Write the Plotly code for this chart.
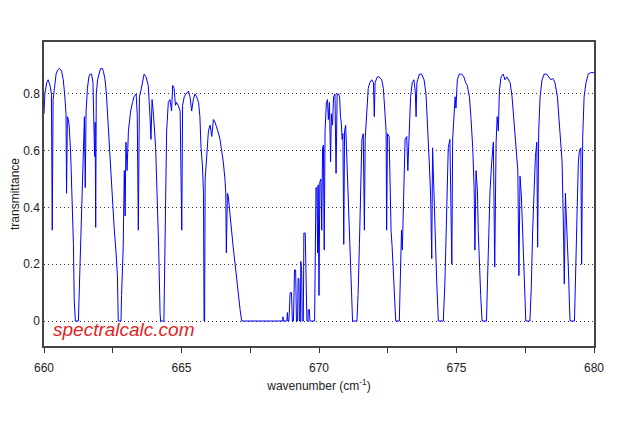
import plotly.graph_objects as go

# Wavenumber (cm^-1) and transmittance
wavenumber = [
    660.00, 660.03, 660.10, 660.15, 660.22, 660.27, 660.30, 660.33, 660.38, 660.44,
    660.50, 660.56, 660.64, 660.70, 660.75, 660.80, 660.82, 660.85, 660.89, 660.92,
    660.97, 661.01, 661.07, 661.10, 661.14, 661.25, 661.28, 661.33, 661.38, 661.43,
    661.47, 661.50, 661.53, 661.58, 661.63, 661.68, 661.73, 661.78, 661.82, 661.84,
    661.86, 661.88, 661.90, 661.95, 662.00, 662.06, 662.12, 662.16, 662.22, 662.27,
    662.34, 662.40, 662.46, 662.50, 662.55, 662.62, 662.67, 662.70, 662.80,
    662.82, 662.88, 662.92, 662.95, 662.98, 663.02, 663.07, 663.15, 663.22, 663.27,
    663.35, 663.39, 663.43, 663.47, 663.52, 663.59, 663.64, 663.71, 663.79, 663.85,
    663.89, 663.93, 663.98, 664.06, 664.12, 664.17, 664.22, 664.24, 664.36,
    664.39, 664.42, 664.46, 664.52, 664.58, 664.64, 664.68, 664.73, 664.78, 664.82,
    664.88, 664.95, 665.01, 665.04, 665.10, 665.16, 665.25, 665.31, 665.37, 665.43,
    665.49, 665.55, 665.62, 665.67, 665.71, 665.76, 665.80, 665.82, 665.84, 665.86,
    665.92, 665.98, 666.04, 666.10, 666.16, 666.22, 666.32, 666.40, 666.46, 666.52,
    666.58, 666.61, 666.63, 666.67, 666.70, 666.76, 666.83, 666.88, 666.95, 667.01,
    667.07, 667.13, 667.19, 668.68,
    668.69, 668.71, 668.83, 668.85, 668.87, 668.90, 668.92, 668.95, 669.00, 669.03,
    669.07, 669.09, 669.11, 669.15, 669.18, 669.22, 669.24, 669.27, 669.29, 669.32,
    669.34, 669.37, 669.39, 669.43, 669.45, 669.50, 669.53, 669.56, 669.60, 669.61,
    669.65, 669.67, 669.84,
    669.87, 669.89, 669.92, 669.95, 669.97, 670.00, 670.03, 670.07, 670.10, 670.13,
    670.16, 670.19, 670.22, 670.27, 670.31, 670.34, 670.38, 670.42, 670.45, 670.49,
    670.53, 670.58, 670.62, 670.66, 670.71, 670.75, 670.78, 670.81, 670.84, 670.87,
    670.90, 670.93, 670.97, 671.00, 671.05, 671.09, 671.13, 671.17, 671.20, 671.22,
    671.38,
    671.42, 671.47, 671.52, 671.56, 671.61, 671.65, 671.68, 671.73, 671.79, 671.85,
    671.92, 671.98, 672.01, 672.04, 672.12, 672.19, 672.28, 672.34, 672.40, 672.44,
    672.46, 672.49, 672.55, 672.58, 672.62, 672.66, 672.73, 672.79, 672.92,
    672.96, 673.00, 673.03, 673.08, 673.13, 673.19, 673.23, 673.26, 673.30, 673.33,
    673.39, 673.45, 673.50, 673.53, 673.56, 673.65, 673.73, 673.82, 673.89, 673.95,
    674.01, 674.06, 674.10, 674.13, 674.18, 674.22, 674.28, 674.34, 674.52,
    674.58, 674.62, 674.64, 674.70, 674.76, 674.83, 674.86, 674.91, 674.95, 674.98,
    675.03, 675.10, 675.19, 675.27, 675.33, 675.39, 675.47, 675.53, 675.59, 675.64,
    675.67, 675.71, 675.76, 675.79, 675.83, 675.88, 675.93, 676.09,
    676.13, 676.17, 676.22, 676.28, 676.34, 676.39, 676.44, 676.48, 676.52, 676.56,
    676.62, 676.70, 676.76, 676.83, 676.88, 676.95, 677.02, 677.09, 677.16, 677.23,
    677.27, 677.31, 677.36, 677.41, 677.45, 677.49, 677.52, 677.67,
    677.72, 677.77, 677.82, 677.87, 677.92, 677.95, 677.99, 678.04, 678.11, 678.19,
    678.28, 678.35, 678.43, 678.50, 678.58, 678.67, 678.74, 678.79, 678.84, 678.89,
    678.92, 678.96, 679.01, 679.07, 679.11, 679.13, 679.29,
    679.32, 679.37, 679.43, 679.47, 679.52, 679.55, 679.59, 679.64, 679.71, 679.79,
    679.88, 680.00,
]

transmittance = [
    0.73, 0.80, 0.84, 0.85, 0.83, 0.80, 0.32, 0.78, 0.82, 0.87,
    0.885, 0.89, 0.88, 0.85, 0.80, 0.73, 0.45, 0.72, 0.71, 0.68,
    0.59, 0.47, 0.27, 0.07, 0.0, 0.0, 0.10, 0.26, 0.45, 0.65,
    0.72, 0.47, 0.74, 0.82, 0.86, 0.87, 0.87, 0.84, 0.72, 0.58,
    0.70, 0.33, 0.80, 0.85, 0.87, 0.89, 0.89, 0.88, 0.85, 0.80,
    0.68, 0.58, 0.45, 0.38, 0.33, 0.24, 0.16, 0.0, 0.0,
    0.09, 0.26, 0.53, 0.37, 0.63, 0.53, 0.67, 0.74, 0.77, 0.79,
    0.80, 0.73, 0.32, 0.79, 0.81, 0.85, 0.87, 0.86, 0.83, 0.73,
    0.64, 0.78, 0.73, 0.61, 0.44, 0.26, 0.03, 0.0, 0.0,
    0.20, 0.44, 0.67, 0.77, 0.78, 0.74, 0.83, 0.82, 0.76, 0.77,
    0.76, 0.74, 0.32, 0.76, 0.79, 0.80, 0.81, 0.79, 0.74, 0.78,
    0.80, 0.79, 0.77, 0.72, 0.61, 0.55, 0.45, 0.0, 0.0, 0.50,
    0.59, 0.67, 0.69, 0.65, 0.71, 0.70, 0.67, 0.64, 0.60, 0.56,
    0.50, 0.45, 0.24, 0.45, 0.44, 0.37, 0.32, 0.26, 0.20, 0.14,
    0.08, 0.04, 0.0, 0.0,
    0.015, 0.0, 0.0, 0.03, 0.0, 0.0, 0.03, 0.10, 0.10, 0.0,
    0.0, 0.07, 0.18, 0.18, 0.0, 0.0, 0.15, 0.15, 0.0, 0.0,
    0.21, 0.18, 0.0, 0.0, 0.31, 0.31, 0.20, 0.0, 0.0, 0.04,
    0.04, 0.0, 0.0,
    0.19, 0.47, 0.47, 0.24, 0.48, 0.09, 0.49, 0.50, 0.32, 0.61,
    0.62, 0.25, 0.67, 0.77, 0.78, 0.71, 0.77, 0.56, 0.73, 0.69,
    0.79, 0.80, 0.52, 0.80, 0.80, 0.79, 0.72, 0.70, 0.64, 0.66,
    0.27, 0.67, 0.69, 0.61, 0.50, 0.38, 0.30, 0.19, 0.06, 0.0,
    0.0,
    0.09, 0.27, 0.44, 0.64, 0.66, 0.32, 0.64, 0.73, 0.82, 0.84,
    0.85, 0.84, 0.72, 0.84, 0.86, 0.86, 0.85, 0.82, 0.73, 0.67,
    0.32, 0.66, 0.65, 0.44, 0.32, 0.26, 0.14, 0.0, 0.0,
    0.14, 0.32, 0.25, 0.50, 0.64, 0.65, 0.53, 0.61, 0.69, 0.79,
    0.84, 0.85, 0.81, 0.72, 0.84, 0.87, 0.87, 0.85, 0.80, 0.69,
    0.56, 0.44, 0.22, 0.61, 0.44, 0.32, 0.14, 0.0, 0.0,
    0.14, 0.30, 0.46, 0.61, 0.64, 0.20, 0.64, 0.73, 0.79, 0.75,
    0.85, 0.87, 0.87, 0.86, 0.84, 0.83, 0.79, 0.71, 0.61, 0.47,
    0.25, 0.53, 0.46, 0.32, 0.20, 0.09, 0.0, 0.0,
    0.15, 0.32, 0.46, 0.56, 0.63, 0.19, 0.63, 0.72, 0.67, 0.81,
    0.86, 0.87, 0.85, 0.86, 0.85, 0.84, 0.79, 0.70, 0.60, 0.53,
    0.16, 0.51, 0.44, 0.30, 0.18, 0.06, 0.0, 0.0,
    0.12, 0.32, 0.46, 0.58, 0.63, 0.26, 0.67, 0.79, 0.85, 0.87,
    0.87, 0.86, 0.85, 0.855, 0.84, 0.79, 0.70, 0.65, 0.56, 0.32,
    0.13, 0.45, 0.34, 0.18, 0.05, 0.0, 0.0,
    0.11, 0.34, 0.56, 0.60, 0.61, 0.20, 0.65, 0.79, 0.84, 0.87,
    0.875, 0.875,
]

x_major_step = 5
x_minor_step = 2.5
y_tick_values = [0, 0.2, 0.4, 0.6, 0.8]
y_tick_labels = ["0", "0.2", "0.4", "0.6", "0.8"]

FONT = "Liberation Sans, Arial, sans-serif"

fig = go.Figure()
fig.add_trace(go.Scatter(
    x=wavenumber, y=transmittance, mode="lines",
    line=dict(color="#0000ff", width=1), showlegend=False, hoverinfo="skip",
))

fig.add_annotation(
    x=0.012, y=0.055, xref="paper", yref="paper",
    xanchor="left", yanchor="middle",
    text="<i>spectralcalc.com</i>", showarrow=False,
    font=dict(family=FONT, size=19, color="#e02424"),
)

# The page body has an 8px default margin, so the figure is 8px smaller than the window
fig.update_layout(
    width=632, height=425,
    margin=dict(l=36, r=46, t=34, b=87, autoexpand=False),
    paper_bgcolor="white", plot_bgcolor="white",
    font=dict(family=FONT, size=12, color="#222222"),
    xaxis=dict(
        range=[660, 680], tick0=660, dtick=x_major_step,
        ticks="outside", ticklen=5, tickcolor="#333333", tickwidth=1,
        ticklabelstandoff=5,
        minor=dict(tick0=660, dtick=x_minor_step, ticks="outside", ticklen=5,
                   tickcolor="#333333", tickwidth=1, showgrid=False),
        showline=True, mirror=True, linecolor="#444444", linewidth=1.5,
        showgrid=False, zeroline=False, automargin=False,
        title=dict(text="wavenumber (cm<sup>-1</sup>)", font=dict(size=12), standoff=7),
    ),
    yaxis=dict(
        range=[-0.088, 0.983], tickvals=y_tick_values, ticktext=y_tick_labels,
        ticks="", showline=True, mirror=True, linecolor="#444444", linewidth=1.5,
        showgrid=True, gridcolor="#333333", griddash="1px,3px", gridwidth=1,
        zeroline=False, automargin=False,
        title=dict(text="transmittance", font=dict(size=12), standoff=1),
    ),
)

fig.write_html("out.html")
